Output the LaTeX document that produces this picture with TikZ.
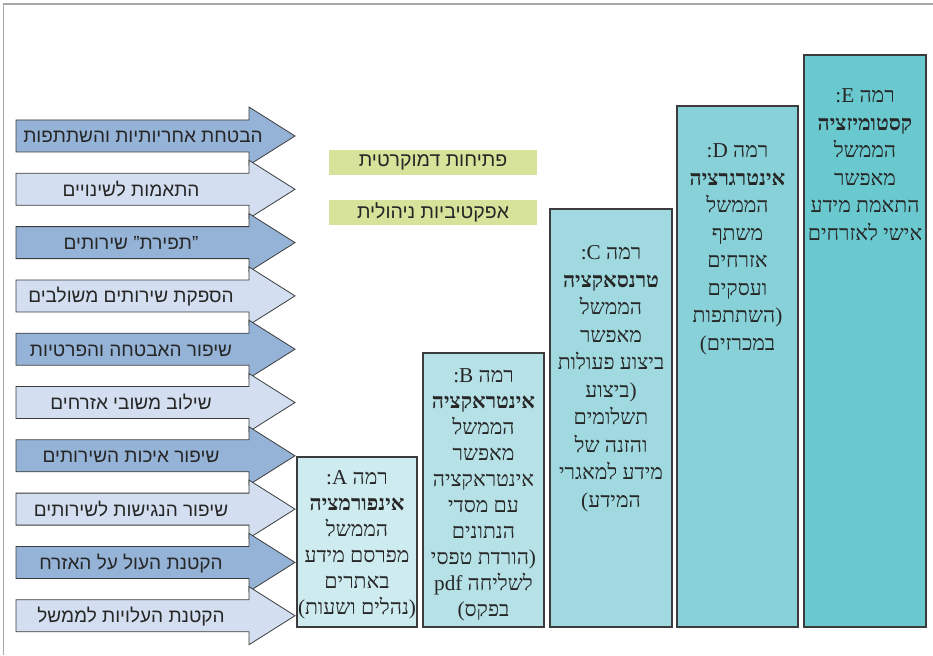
\documentclass[tikz,border=0pt]{standalone}
\usepackage{fontspec}
\TeXXeTstate=1
\newfontfamily\hebsans[Script=Hebrew]{Liberation Sans}
\newfontfamily\hebserif[Script=Hebrew]{Liberation Serif}
\newfontfamily\latsans{Liberation Sans}
\newfontfamily\latserif{Liberation Serif}
\newcommand\RL[1]{\beginR #1\endR}
\newcommand\LS[1]{\mbox{\latserif #1}}
\newcommand\LQ[1]{\mbox{\latsans #1}}
\definecolor{arrdark}{HTML}{95B3D7}
\definecolor{arrlight}{HTML}{D3DFF0}
\definecolor{greenlab}{HTML}{D7E29B}
\definecolor{colA}{HTML}{CEEBEF}
\definecolor{colB}{HTML}{B6E1E6}
\definecolor{colC}{HTML}{A0D9DF}
\definecolor{colD}{HTML}{88D1D8}
\definecolor{colE}{HTML}{6AC9CF}
\definecolor{frame}{HTML}{A8A8A8}
\definecolor{edge}{HTML}{3C3C3C}
\tikzset{
  arrowshape/.style={draw=edge, line width=0.8pt, line join=miter},
  arrowtext/.style={font=\hebsans\fontsize{19}{22}\selectfont, text=black!85, anchor=base, inner sep=0pt},
  greenbox/.style={fill=greenlab, minimum width=208pt, minimum height=25pt, inner sep=0pt,
    font=\hebsans\fontsize{19.5}{22}\selectfont, text=black!85},
  levelbox/.style={draw=edge, line width=1.2pt, inner sep=0pt},
  leveltext/.style={align=center, anchor=north, inner sep=0pt, text=black!85},
  colfont/.style={font=\hebserif\fontsize{21.2}{#1}\selectfont},
}
\begin{document}
\begin{tikzpicture}[x=1pt,y=-1pt]
\useasboundingbox (0,0) rectangle (933,655);
% frame
\draw[frame, line width=1.5pt] (3.5,655) -- (3.5,4) -- (933,4);

% arrows
\foreach \i/\tp/\col/\tx/\txt in {
  1/120/arrdark/143/{הבטחת אחריותיות והשתתפות},
  2/173.3/arrlight/131/{התאמות לשינויים},
  3/226.6/arrdark/131/{\LQ{”}תפירת\LQ{”} שירותים},
  4/279.9/arrlight/131/{הספקת שירותים משולבים},
  5/333.2/arrdark/131/{שיפור האבטחה והפרטיות},
  6/386.5/arrlight/131/{שילוב משובי אזרחים},
  7/439.8/arrdark/131/{שיפור איכות השירותים},
  8/493.1/arrlight/131/{שיפור הנגישות לשירותים},
  9/546.4/arrdark/131/{הקטנת העול על האזרח},
  10/599.7/arrlight/131/{הקטנת העלויות לממשל}} {
  \draw[arrowshape, fill=\col] (16,\tp) -- (249,\tp) -- (249,{\tp-13}) -- (295,{\tp+16})
     -- (249,{\tp+45}) -- (249,{\tp+32}) -- (16,{\tp+32}) -- cycle;
  \node[arrowtext] (arr\i) at (\tx,{\tp+23}) {\RL{\txt}};
}

% green labels
\node[greenbox] (g1) at (433,162.5) {\RL{פתיחות דמוקרטית}};
\node[greenbox] (g2) at (433,212.5) {\RL{אפקטיביות ניהולית}};

% level columns
\node[levelbox, fill=colA, minimum width=120pt, minimum height=170pt] (boxA) at (357,542) {};
\node[levelbox, fill=colB, minimum width=121pt, minimum height=274pt] (boxB) at (483.5,490) {};
\node[levelbox, fill=colC, minimum width=122pt, minimum height=418pt] (boxC) at (611,418) {};
\node[levelbox, fill=colD, minimum width=121pt, minimum height=521pt] (boxD) at (737.5,366.5) {};
\node[levelbox, fill=colE, minimum width=122pt, minimum height=572pt] (boxE) at (865,341) {};

\node[leveltext, colfont=26] (tA) at (357,470.5) {%
\RL{רמה \LS{A}\LS{:}}\\ \textbf{\RL{אינפורמציה}}\\ \RL{הממשל}\\ \RL{מפרסם מידע}\\ \RL{באתרים}\\ \RL{\LS{)}נהלים ושעות\LS{(}}};

\node[leveltext, colfont=26] (tB) at (483.5,368.5) {%
\RL{רמה \LS{B}\LS{:}}\\ \textbf{\RL{אינטראקציה}}\\ \RL{הממשל}\\ \RL{מאפשר}\\ \RL{אינטראקציה}\\ \RL{עם מסדי}\\ \RL{הנתונים}\\ \RL{\LS{)}הורדת טפסי}\\ \RL{לשליחה \LS{pdf}}\\ \RL{בפקס\LS{(}}};

\node[leveltext, colfont=27.5] (tC) at (611,245.5) {%
\RL{רמה \LS{C}\LS{:}}\\ \textbf{\RL{טרנסאקציה}}\\ \RL{הממשל}\\ \RL{מאפשר}\\ \RL{ביצוע פעולות}\\ \RL{\LS{)}ביצוע}\\ \RL{תשלומים}\\ \RL{והזנה של}\\ \RL{מידע למאגרי}\\ \RL{המידע\LS{(}}};

\node[leveltext, colfont=27.5] (tD) at (737.5,143.5) {%
\RL{רמה \LS{D}\LS{:}}\\ \textbf{\RL{אינטרגרציה}}\\ \RL{הממשל}\\ \RL{משתף}\\ \RL{אזרחים}\\ \RL{ועסקים}\\ \RL{\LS{)}השתתפות}\\ \RL{במכרזים\LS{(}}};

\node[leveltext, colfont=27.5] (tE) at (865,88.5) {%
\RL{רמה \LS{E}\LS{:}}\\ \textbf{\RL{קסטומיזציה}}\\ \RL{הממשל}\\ \RL{מאפשר}\\ \RL{התאמת מידע}\\ \RL{אישי לאזרחים}};
\end{tikzpicture}
\end{document}
